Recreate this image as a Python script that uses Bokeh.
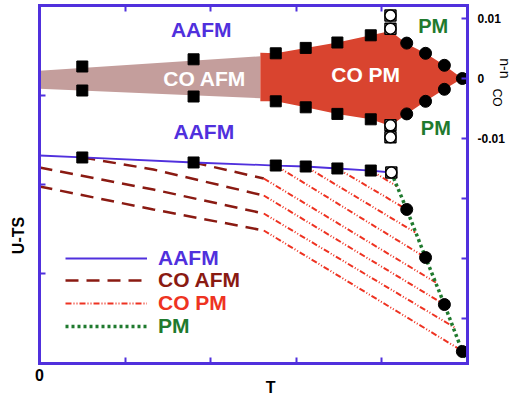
import math
from bokeh.plotting import figure
from bokeh.models import Range1d, LinearAxis, FixedTicker, Label, Legend, LegendItem
from bokeh.embed import file_html
from bokeh.resources import INLINE

# ---------------- data ----------------
# upper panel : n - n_CO versus T
co_afm_T = [0.0, 2.58]
co_afm_upper = [0.0013, 0.0037]
co_afm_lower = [-0.0017, -0.0033]

co_pm_T = [2.58, 2.76, 3.11, 3.48, 3.87, 4.10, 4.29, 4.51, 4.73, 4.94]
co_pm_upper = [0.0043, 0.0042, 0.0051, 0.0060, 0.0072, 0.0079, 0.0058, 0.0042, 0.0022, 0.0]
co_pm_lower = [-0.0038, -0.0038, -0.0048, -0.0059, -0.0068, -0.0079, -0.0059, -0.0038, -0.0018, 0.0]

sq_T = [0.50, 1.80, 2.76, 3.11, 3.48, 3.87]
sq_upper = [0.0020, 0.0032, 0.0042, 0.0051, 0.0060, 0.0072]
sq_lower = [-0.0020, -0.0030, -0.0038, -0.0048, -0.0059, -0.0068]

open_T = [4.10, 4.10, 4.10, 4.10]
open_n = [0.0105, 0.0083, -0.0078, -0.0098]

pm_T = [4.29, 4.51, 4.73, 4.94, 4.73, 4.51, 4.29]
pm_n = [0.0059, 0.0042, 0.0022, 0.0, -0.0018, -0.0038, -0.0059]

# lower panel : U - TS versus T
aafm_T = [0.0, 0.50, 1.80, 2.76, 3.11, 3.48, 3.87, 4.11]
aafm_U = [2.324, 2.302, 2.246, 2.212, 2.201, 2.179, 2.156, 2.134]
aafm_sq_T = [0.50, 1.80, 2.76, 3.11, 3.48, 3.87]
aafm_sq_U = [2.302, 2.246, 2.212, 2.201, 2.179, 2.156]
aafm_open_T = [4.11]
aafm_open_U = [2.134]

pm_line_T = [4.11, 4.29, 4.51, 4.73, 4.94, 4.98]
pm_line_U = [2.134, 1.721, 1.184, 0.659, 0.134, 0.07]
pm_pts_T = [4.29, 4.51, 4.73, 4.94]
pm_pts_U = [1.721, 1.184, 0.659, 0.134]

co_afm_lines_T = [[1.80, 2.62], [0.50, 1.33, 2.62], [0.0, 1.33, 2.62], [0.0, 1.33, 2.62]]
co_afm_lines_U = [[2.246, 2.067], [2.302, 2.168, 1.877], [2.190, 1.944, 1.676],
                  [1.978, 1.721, 1.486]]

co_pm_lines_T = [[3.87, 4.18], [3.48, 4.29], [3.11, 4.39], [2.76, 4.51],
                 [2.62, 4.63], [2.62, 4.73], [2.62, 4.85], [2.62, 4.95]]
co_pm_lines_U = [[2.156, 1.978], [2.179, 1.721], [2.201, 1.464], [2.212, 1.184],
                 [2.067, 0.905], [1.877, 0.659], [1.676, 0.402], [1.486, 0.134]]

x_ticks = [0, 1, 2, 3, 4]
left_ticks = [1, 2, 3]
right_ticks = [0.01, 0, -0.01, -0.02, -0.03, -0.04]
right_tick_labels = {0.01: "0.01", 0: "0", -0.01: "-0.01", -0.02: "", -0.03: "", -0.04: ""}

T_MIN, T_MAX = 0, 5
U_MIN, U_MAX = 0, 4
N_MIN, N_MAX = -0.0475, 0.012167

# ---------------- style ----------------
BLUE = "#5030dd"
DARKRED = "#8a1a12"
RED = "#ee3322"
GREEN = "#1f7a2e"
FONT = "Liberation Sans"

# the frame fills the whole canvas; the boxed plot area is drawn by fixed-location axes
p = figure(x_range=Range1d(-0.4556, 5.5607), y_range=Range1d(-0.3911, 4.0559),
           width=515, height=398,
           min_border_left=0, min_border_right=0, min_border_top=0, min_border_bottom=0,
           output_backend="svg", toolbar_location=None,
           x_axis_type=None, y_axis_type=None)
p.extra_y_ranges = {"n": Range1d(-0.05333, 0.013)}
p.outline_line_color = None
p.background_fill_color = "white"
p.border_fill_color = "white"


def style_axis(ax):
    ax.axis_line_color = BLUE
    ax.axis_line_width = 3
    ax.axis_line_cap = "square"
    ax.major_tick_line_color = BLUE
    ax.major_tick_line_width = 2
    ax.major_tick_in = 6
    ax.major_tick_out = 0
    ax.minor_tick_line_color = None
    ax.major_label_text_font = FONT
    ax.major_label_text_font_style = "bold"
    ax.major_label_text_color = "black"


xb = LinearAxis(fixed_location=U_MIN, bounds=(T_MIN, T_MAX),
                ticker=FixedTicker(ticks=x_ticks),
                major_label_overrides={t: ("0" if t == 0 else "") for t in x_ticks})
style_axis(xb)
xb.major_label_text_font_size = "16px"
xb.major_label_standoff = 6
p.add_layout(xb, "below")

xt = LinearAxis(fixed_location=U_MAX, bounds=(T_MIN, T_MAX),
                ticker=FixedTicker(ticks=x_ticks[1:]),
                major_label_overrides={t: "" for t in x_ticks})
style_axis(xt)
xt.major_label_text_font_size = "0px"
xt.major_label_standoff = 0
p.add_layout(xt, "above")

yl = LinearAxis(fixed_location=T_MIN, bounds=(U_MIN, U_MAX),
                ticker=FixedTicker(ticks=left_ticks),
                major_label_overrides={t: "" for t in left_ticks})
style_axis(yl)
yl.major_label_text_font_size = "0px"
yl.major_label_standoff = 0
p.add_layout(yl, "left")

yr = LinearAxis(y_range_name="n", fixed_location=T_MAX, bounds=(N_MIN, N_MAX),
                ticker=FixedTicker(ticks=right_ticks),
                major_label_overrides=right_tick_labels)
style_axis(yr)
yr.major_label_text_font_size = "12px"
yr.major_label_standoff = 10
p.add_layout(yr, "right")

# ---------------- upper panel ----------------
p.varea(x=co_afm_T, y1=co_afm_lower, y2=co_afm_upper, fill_color="#c49e9c",
        y_range_name="n")
p.varea(x=co_pm_T, y1=co_pm_lower, y2=co_pm_upper, fill_color="#d9442f",
        y_range_name="n")

p.scatter(sq_T, sq_upper, marker="square", size=11, color="black", y_range_name="n")
p.scatter(sq_T, sq_lower, marker="square", size=11, color="black", y_range_name="n")
p.scatter(open_T, open_n, marker="square", size=11, fill_color="white",
          line_color="black", line_width=1.5, y_range_name="n")
p.scatter(open_T, open_n, marker="circle", size=11, fill_color="white",
          line_color="black", line_width=1.5, y_range_name="n")
p.scatter(pm_T, pm_n, marker="circle", size=12, color="black", y_range_name="n")

# ---------------- lower panel ----------------
r_coafm = None
for xs, ys in zip(co_afm_lines_T, co_afm_lines_U):
    r_coafm = p.line(xs, ys, line_color=DARKRED, line_width=2.5, line_dash="13 8")
r_copm = None
for xs, ys in zip(co_pm_lines_T, co_pm_lines_U):
    r_copm = p.line(xs, ys, line_color=RED, line_width=2, line_dash="6 2 1 2 1 2")
r_pm = p.line(pm_line_T, pm_line_U, line_color=GREEN, line_width=3.5, line_dash="3 3")
r_aafm = p.line(aafm_T, aafm_U, line_color=BLUE, line_width=1.8)

p.scatter(aafm_sq_T, aafm_sq_U, marker="square", size=11, color="black")
p.scatter(aafm_open_T, aafm_open_U, marker="square", size=11, fill_color="white",
          line_color="black", line_width=1.5)
p.scatter(aafm_open_T, aafm_open_U, marker="circle", size=11, fill_color="white",
          line_color="black", line_width=1.5)
p.scatter(pm_pts_T, pm_pts_U, marker="circle", size=12, color="black")


# ---------------- texts ----------------
def lab(x, y, text, color, size, rng=None, angle=0.0, style="bold"):
    kw = dict(x=x, y=y, text=text, text_color=color, text_font=FONT,
              text_font_size=size, text_font_style=style, text_align="center",
              text_baseline="middle", angle=angle)
    if rng:
        kw["y_range_name"] = rng
    p.add_layout(Label(**kw))


lab(1.89, 0.0082, "AAFM", BLUE, "21px", "n")
lab(1.92, -0.0088, "AAFM", BLUE, "21px", "n")
lab(1.93, 0.0, "CO AFM", "white", "21px", "n")
lab(3.81, 0.0007, "CO PM", "white", "21px", "n")
lab(4.60, 0.0087, "PM", GREEN, "20px", "n")
lab(4.63, -0.0083, "PM", GREEN, "20px", "n")

lab(5.44, 0.0017, "n-n", "black", "14px", "n", angle=-math.pi / 2, style="normal")
lab(5.35, -0.0032, "CO", "black", "12px", "n", angle=-math.pi / 2, style="normal")
lab(-0.245, 1.43, "U-TS", "black", "16px", angle=math.pi / 2)
lab(2.70, -0.268, "T", "black", "16px")

# ---------------- legend ----------------
for rend, text, col, yb in [(r_aafm, "AAFM", BLUE, 128),
                            (r_coafm, "CO AFM", DARKRED, 106),
                            (r_copm, "CO PM", RED, 83),
                            (r_pm, "PM", GREEN, 60)]:
    lg = Legend(items=[LegendItem(label=text, renderers=[rend])], location=(65, yb),
                padding=0, margin=0, spacing=0, glyph_width=82, glyph_height=20,
                label_standoff=11, label_height=20,
                label_text_font=FONT, label_text_font_size="21px",
                label_text_font_style="bold", label_text_color=col,
                border_line_alpha=0, background_fill_alpha=0)
    p.add_layout(lg)

open("out.html", "w").write(file_html(p, INLINE))
